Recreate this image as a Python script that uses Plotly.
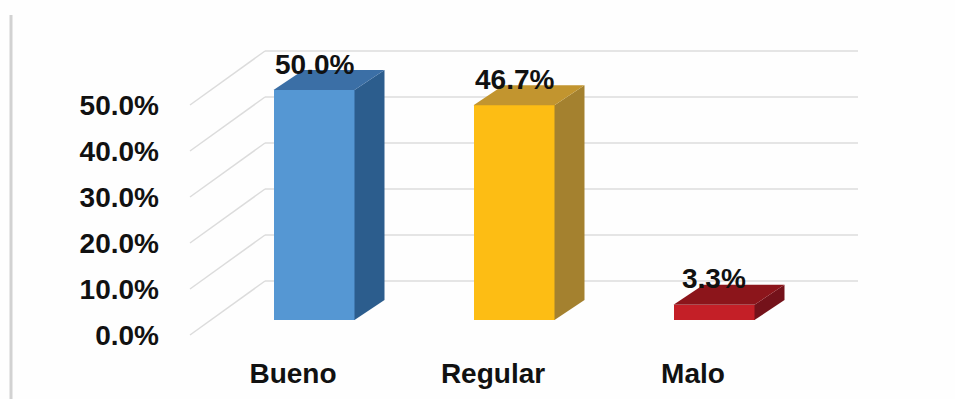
import plotly.graph_objects as go

# ---------------- data ----------------
categories = ["Bueno", "Regular", "Malo"]
values = [50.0, 46.7, 3.3]
y_ticks = [0, 10, 20, 30, 40, 50]
y_tick_labels = [f"{t:.1f}%" for t in y_ticks]
value_labels = [f"{v:.1f}%" for v in values]

front_colors = ["#5597D3", "#FDBD14", "#C41F27"]
top_colors = ["#3B6FA6", "#C2952F", "#8C151B"]
side_colors = ["#2C5D8D", "#A4812F", "#74121A"]

# ---------------- geometry (pixels) ----------------
W, H = 955, 399
L, R, T, B = 170, 85, 10, 54
PX_CAT = 200.0      # pixels per category step
PX_PCT = 4.6        # pixels per percentage point
X0_PX = 293         # pixel x of first category on the front floor
Y0_PX = 335         # pixel y of 0% on the front floor

# oblique offsets (in pixel) converted into data units
DX1, DY1 = 21 / PX_CAT, 15 / PX_PCT      # front floor -> bar front plane
DX2, DY2 = 30 / PX_CAT, 20 / PX_PCT      # bar depth
DXB, DYB = 75 / PX_CAT, 54 / PX_PCT      # front floor -> back wall
WALL_X0 = (265 - X0_PX) / PX_CAT
WALL_X1 = (858 - X0_PX) / PX_CAT
BAR_W = 0.405

x_range = [(L - X0_PX) / PX_CAT, (W - R - X0_PX) / PX_CAT]
y_range = [(Y0_PX - (H - B)) / PX_PCT, (Y0_PX - T) / PX_PCT]

idx = list(range(len(categories)))
bar_x = [i + DX1 for i in idx]

fig = go.Figure()

# front faces
fig.add_trace(go.Bar(
    x=bar_x, y=values, base=DY1, width=BAR_W,
    marker=dict(color=front_colors, line=dict(width=0)),
    hovertext=categories, showlegend=False,
))

# side and top faces
for i, v in enumerate(values):
    xl = bar_x[i] - BAR_W / 2
    xr = bar_x[i] + BAR_W / 2
    yb = DY1
    yt = DY1 + v
    fig.add_trace(go.Scatter(
        x=[xr, xr + DX2, xr + DX2, xr, xr],
        y=[yb, yb + DY2, yt + DY2, yt, yb],
        fill="toself", fillcolor=side_colors[i], mode="lines",
        line=dict(width=0, color=side_colors[i]), hoverinfo="skip", showlegend=False,
    ))
    fig.add_trace(go.Scatter(
        x=[xl, xr, xr + DX2, xl + DX2, xl],
        y=[yt, yt, yt + DY2, yt + DY2, yt],
        fill="toself", fillcolor=top_colors[i], mode="lines",
        line=dict(width=0, color=top_colors[i]), hoverinfo="skip", showlegend=False,
    ))

# back wall gridlines and side wall diagonals
shapes = []
diag_x0 = (190 - X0_PX) / PX_CAT
for t in y_ticks:
    shapes.append(dict(type="line", xref="x", yref="y", layer="below",
                       x0=WALL_X0, x1=WALL_X1, y0=t + DYB, y1=t + DYB,
                       line=dict(color="#DCDCDC", width=1.5)))
    shapes.append(dict(type="line", xref="x", yref="y", layer="below",
                       x0=diag_x0, x1=diag_x0 + DXB, y0=t, y1=t + DYB,
                       line=dict(color="#DCDCDC", width=1.5)))
# left border
shapes.append(dict(type="line", xref="paper", yref="paper", layer="below",
                   x0=(11 - L) / (W - L - R), x1=(11 - L) / (W - L - R),
                   y0=-B / (H - T - B), y1=(H - B - 15) / (H - T - B),
                   line=dict(color="#D2D2D2", width=3)))

FONT = dict(family="Liberation Sans", size=28, color="#111111", weight="bold")

# data labels
annotations = []
for i, v in enumerate(values):
    annotations.append(dict(
        x=bar_x[i], y=v + DY1, xref="x", yref="y", text=value_labels[i],
        showarrow=False, yanchor="middle", xanchor="center", yshift=26,
        font=FONT,
    ))

fig.update_layout(
    width=W, height=H,
    margin=dict(l=L, r=R, t=T, b=B),
    paper_bgcolor="#FEFEFE", plot_bgcolor="#FEFEFE",
    shapes=shapes, annotations=annotations,
    bargap=0,
    xaxis=dict(range=x_range, tickmode="array", tickvals=idx, ticktext=categories,
               showgrid=False, zeroline=False, showline=False, ticks="",
               tickfont=FONT, ticklabelstandoff=9, fixedrange=True),
    yaxis=dict(range=y_range, tickmode="array", tickvals=y_ticks, ticktext=y_tick_labels,
               showgrid=False, zeroline=False, showline=False, ticks="",
               tickfont=FONT, ticklabelstandoff=10, fixedrange=True),
)

fig.write_html("out.html")
